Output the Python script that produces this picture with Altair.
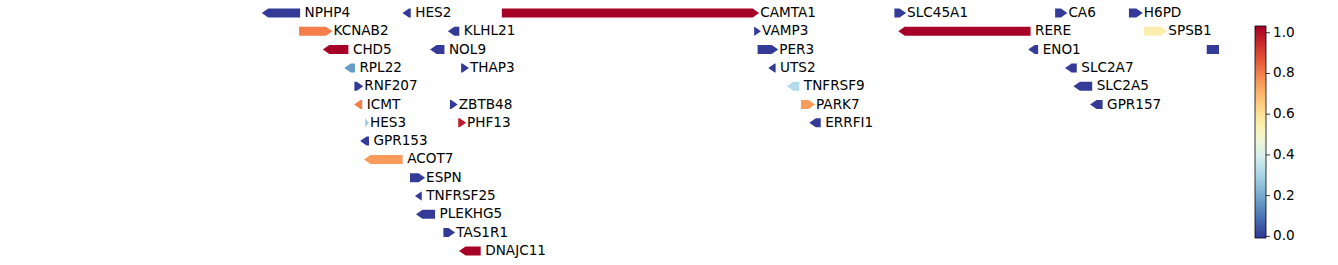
import altair as alt
import pandas as pd

# ---- data (positions in Mb on chr1) ----
names = ["NPHP4", "HES2", "CAMTA1", "SLC45A1", "CA6", "H6PD",
         "KCNAB2", "KLHL21", "VAMP3", "RERE", "SPSB1",
         "CHD5", "NOL9", "PER3", "ENO1", "SLC25A33",
         "RPL22", "THAP3", "UTS2", "SLC2A7",
         "RNF207", "TNFRSF9", "SLC2A5",
         "ICMT", "ZBTB48", "PARK7", "GPR157",
         "HES3", "PHF13", "ERRFI1",
         "GPR153", "ACOT7", "ESPN", "TNFRSF25", "PLEKHG5", "TAS1R1", "DNAJC11"]
rows = [0, 0, 0, 0, 0, 0,
        1, 1, 1, 1, 1,
        2, 2, 2, 2, 2,
        3, 3, 3, 3,
        4, 4, 4,
        5, 5, 5, 5,
        6, 6, 6,
        7, 8, 9, 10, 11, 12, 13]
starts = [5.862, 6.401, 6.782, 8.286, 8.902, 9.185,
          6.005, 6.575, 7.749, 8.301, 9.243,
          6.096, 6.507, 7.762, 8.799, 9.483,
          6.178, 6.626, 7.803, 8.940,
          6.217, 7.874, 8.972,
          6.216, 6.583, 7.928, 9.036,
          6.258, 6.615, 7.960,
          6.239, 6.254, 6.430, 6.449, 6.453, 6.558, 6.618]
ends = [6.009, 6.433, 7.768, 8.331, 8.949, 9.238,
        6.133, 6.619, 7.775, 8.808, 9.332,
        6.194, 6.562, 7.841, 8.837, 9.560,
        6.219, 6.656, 7.831, 8.985,
        6.251, 7.922, 9.044,
        6.247, 6.613, 7.982, 9.084,
        6.273, 6.645, 8.004,
        6.273, 6.402, 6.488, 6.475, 6.526, 6.603, 6.701]
strands = ["-", "-", "+", "+", "+", "+",
           "+", "-", "+", "-", "+",
           "-", "-", "+", "-", "+",
           "-", "+", "-", "-",
           "+", "-", "-",
           "-", "+", "+", "-",
           "+", "+", "-",
           "-", "-", "+", "-", "-", "+", "-"]
values = [0.0, 0.0, 1.03, 0.0, 0.0, 0.0,
          0.80, 0.0, 0.0, 1.03, 0.55,
          1.03, 0.0, 0.0, 0.0, 0.0,
          0.17, 0.0, 0.0, 0.0,
          0.0, 0.32, 0.0,
          0.80, 0.0, 0.75, 0.0,
          0.28, 0.98, 0.0,
          0.0, 0.75, 0.0, 0.0, 0.0, 0.0, 1.03]

color_ticks = [0.0, 0.2, 0.4, 0.6, 0.8, 1.0]

X_DOMAIN = [4.859, 9.530]
Y_DOMAIN = [-0.7104, 13.770]
C_DOMAIN = [-0.008, 1.033]
TIP = 0.0249   # arrow head length (Mb)
HALF = 0.246   # half of arrow thickness (row units)

genes = pd.DataFrame({"gene": names, "row": rows, "start": starts, "end": ends,
                      "strand": strands, "value": values})

verts = []
for n, r, s, e, st, v in zip(names, rows, starts, ends, strands, values):
    t = min(TIP, e - s)
    if st == "+":
        pts = [(s, r - HALF, r + HALF), (e - t, r - HALF, r + HALF), (e, r, r)]
    else:
        pts = [(s, r, r), (s + t, r - HALF, r + HALF), (e, r - HALF, r + HALF)]
    for i, (x, y1, y2) in enumerate(pts):
        verts.append({"gene": n, "x": x, "y": y1, "y2": y2, "value": v})
verts = pd.DataFrame(verts)

xs = alt.Scale(domain=X_DOMAIN, nice=False, zero=False)
ys = alt.Scale(domain=Y_DOMAIN, nice=False, zero=False, reverse=True)

arrows = alt.Chart(verts).mark_area(clip=True, orient="vertical", interpolate="linear").encode(
    x=alt.X("x:Q", scale=xs, axis=None),
    y=alt.Y("y:Q", scale=ys, axis=None),
    y2="y2:Q",
    detail="gene:N",
    color=alt.Color(
        "value:Q",
        scale=alt.Scale(domain=C_DOMAIN, scheme=alt.SchemeParams(name="redyellowblue", extent=[1, 0])),
        legend=alt.Legend(
            title=None, orient="none", legendX=1255, legendY=26, direction="vertical",
            gradientLength=212, gradientThickness=11, values=color_ticks, format=".1f",
            labelFontSize=13.6, labelFont="DejaVu Sans", labelColor="black", labelOffset=7,
            gradientStrokeColor="black", gradientStrokeWidth=0.8, padding=0,
        ),
    ),
)

def labels(strand, dx):
    # labels of genes running past the right edge of the view are not shown
    return alt.Chart(genes).transform_filter(
        (alt.datum.strand == strand) & (alt.datum.end <= X_DOMAIN[1])
    ).mark_text(
        align="left", baseline="middle", dx=dx, fontSize=13.6, font="DejaVu Sans",
        color="black", clip=True,
    ).encode(
        x=alt.X("end:Q", scale=xs, axis=None),
        y=alt.Y("row:Q", scale=ys, axis=None),
        text="gene:N",
    )

ticks = alt.Chart(pd.DataFrame({"t": color_ticks})).mark_rule(color="black", strokeWidth=0.8).encode(
    x=alt.value(1266), x2=alt.value(1270),
    y=alt.Y("t:Q", scale=alt.Scale(domain=C_DOMAIN, range=[238, 26], nice=False, zero=False), axis=None),
)

chart = alt.layer(arrows, labels("+", 1), labels("-", 4.5), ticks).resolve_scale(
    y="independent"
).properties(width=1219, height=265, padding=0).configure_view(strokeWidth=0)

chart.save("out.html", embed_options={"renderer": "svg", "actions": False})
